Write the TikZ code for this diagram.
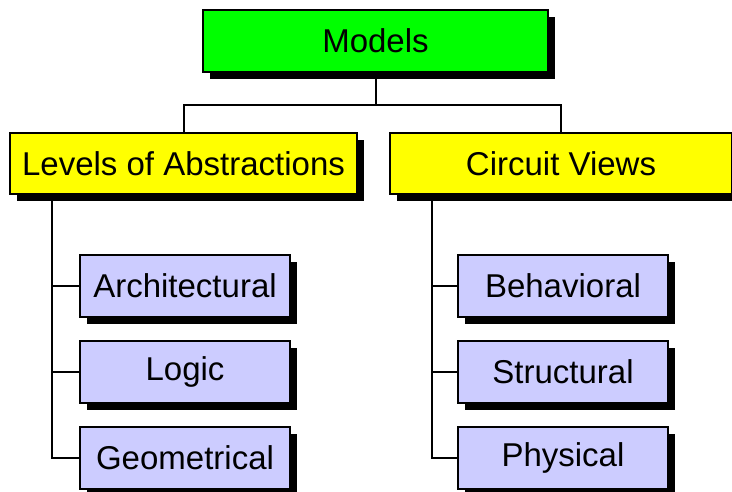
\documentclass[tikz,border=0pt]{standalone}
\usepackage{fontspec}
\setmainfont{Liberation Sans}
\usetikzlibrary{shadows}
\definecolor{mgreen}{HTML}{00FF00}
\definecolor{myellow}{HTML}{FFFF00}
\definecolor{mlav}{HTML}{CCCCFF}
\tikzset{
  x=1pt, y=-1pt,
  basebox/.style={draw=black, line width=1.8pt, inner sep=0pt, font=\fontsize{33}{38}\selectfont,
    drop shadow={shadow xshift=7pt, shadow yshift=-7pt, fill=black, opacity=1}},
  topbox/.style={basebox, fill=mgreen, minimum width=345pt, minimum height=62pt},
  catbox/.style={basebox, fill=myellow, minimum height=61pt},
  leafbox/.style={basebox, fill=mlav, minimum width=210pt, minimum height=62pt},
  conn/.style={line width=2pt, black}
}
\begin{document}
\begin{tikzpicture}
\useasboundingbox (0,0) rectangle (732,492);
\node[topbox] (models) at (375.5,41) {Models};
\node[catbox, minimum width=347pt] (levels) at (183.5,163.5) {Levels of Abstractions};
\node[catbox, minimum width=342pt] (views) at (561,163.5) {Circuit Views};
\node[leafbox] (arch) at (185,286) {Architectural};
\node[leafbox] (logic) at (185,372) {Logic};
\node[leafbox] (geom) at (185,458) {Geometrical};
\node[leafbox] (beh) at (563,286) {Behavioral};
\node[leafbox] (str) at (563,372) {Structural};
\node[leafbox] (phy) at (563,458) {Physical};
\coordinate (hub) at (375.5,105);
\coordinate (ltrunk) at (52,0);
\coordinate (rtrunk) at (432,0);
\draw[conn] (models.south) -- (hub);
\draw[conn] (levels.north) |- (hub) -| (views.north);
\draw[conn] (levels.south -| ltrunk) |- (arch.west);
\draw[conn] (ltrunk |- logic.west) -- (logic.west);
\draw[conn] (levels.south -| ltrunk) |- (geom.west);
\draw[conn] (views.south -| rtrunk) |- (beh.west);
\draw[conn] (rtrunk |- str.west) -- (str.west);
\draw[conn] (views.south -| rtrunk) |- (phy.west);
\end{tikzpicture}
\end{document}
